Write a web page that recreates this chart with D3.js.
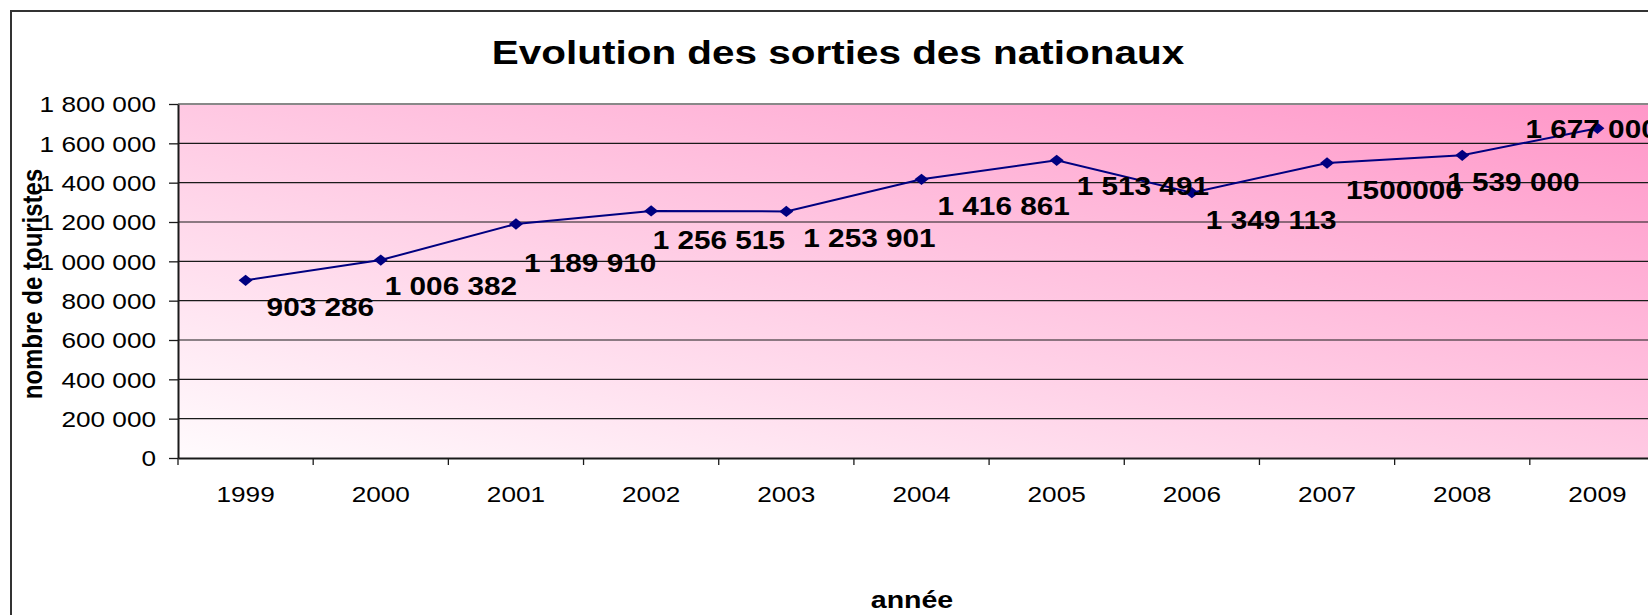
<!DOCTYPE html>
<html>
<head>
	<meta charset="utf-8">
	<script type="text/javascript" src="https://cdn.jsdelivr.net/npm/d3@7/dist/d3.min.js"></script>
	<style>
		body { margin: 0; background: #fff; }
		text { font-family: "Liberation Sans", Arial, Helvetica, sans-serif; fill: #000; }
	</style>
</head>
<body>
	<script type="text/javascript">

		// data
		var years = ['1999', '2000', '2001', '2002', '2003', '2004', '2005', '2006', '2007', '2008', '2009'];
		var sorties = [903286, 1006382, 1189910, 1256515, 1253901, 1416861, 1513491, 1349113, 1500000, 1539000, 1677000];
		var valueLabels = ['903 286', '1 006 382', '1 189 910', '1 256 515', '1 253 901', '1 416 861',
			'1 513 491', '1 349 113', '1500000', '1 539 000', '1 677 000'];
		var yTicks = [0, 200000, 400000, 600000, 800000, 1000000, 1200000, 1400000, 1600000, 1800000];

		// where each value label sits, relative to its point (manually placed in the original)
		var labelOffsets = [[21, 27], [4, 26], [8, 39.5], [1.5, 29], [17, 26.6], [16, 26.6],
			[20, 25.6], [14, 27.3], [19, 26.5], [-15, 27], [-72, 1]];

		// canvas params
		var W = 1648, H = 615;
		var plot = {left: 178, right: 1665, top: 104, bottom: 458};
		var sx = 1.19; // text in the original is stretched horizontally

		var fr = d3.formatLocale({decimal: ',', thousands: ' ', grouping: [3], currency: ['', ' €']});
		var fmt = fr.format(',d');

		var svg = d3.select('body')
			.append('svg')
			.attr('width', W)
			.attr('height', H);

		// gradient for plot area
		var grad = svg.append('defs').append('linearGradient')
			.attr('id', 'bg')
			.attr('x1', 0).attr('y1', 1)
			.attr('x2', 1).attr('y2', 0);
		grad.append('stop').attr('offset', '0%').attr('stop-color', '#fffbfd');
		grad.append('stop').attr('offset', '100%').attr('stop-color', '#ff96c8');

		// outer frame
		svg.append('rect')
			.attr('x', 11).attr('y', 11)
			.attr('width', 1720).attr('height', 700)
			.attr('fill', '#fff')
			.attr('stroke', '#333')
			.attr('stroke-width', 2);

		// scales
		var xScale = d3.scaleBand()
			.domain(years)
			.range([plot.left, plot.right])
			.padding(0);

		var yScale = d3.scaleLinear()
			.domain([0, 1800000])
			.range([plot.bottom, plot.top]);

		svg.append('rect')
			.attr('x', plot.left).attr('y', plot.top)
			.attr('width', plot.right - plot.left)
			.attr('height', plot.bottom - plot.top)
			.attr('fill', 'url(#bg)');

		// gridlines
		svg.append('g')
			.selectAll('line')
			.data(yTicks.slice(1, -1))
			.enter()
			.append('line')
			.attr('x1', plot.left).attr('x2', plot.right)
			.attr('y1', function(d) { return yScale(d); })
			.attr('y2', function(d) { return yScale(d); })
			.attr('stroke', '#1a1a1a')
			.attr('stroke-width', 1.2);

		svg.append('line')
			.attr('x1', plot.left).attr('x2', plot.right)
			.attr('y1', plot.top).attr('y2', plot.top)
			.attr('stroke', '#888')
			.attr('stroke-width', 2);

		// y axis
		var yAxis = svg.append('g')
			.attr('class', 'y-axis')
			.attr('transform', 'translate(' + plot.left + ',0)')
			.call(d3.axisLeft(yScale).tickValues(yTicks).tickSize(9).tickSizeOuter(0).tickFormat(fmt));
		yAxis.select('.domain').attr('stroke', '#1a1a1a').attr('stroke-width', 2);
		yAxis.selectAll('.tick line').attr('stroke', '#1a1a1a').attr('stroke-width', 1.3);
		yAxis.selectAll('.tick text')
			.attr('font-size', 22)
			.attr('x', -22 / sx)
			.attr('dy', '0.36em')
			.attr('transform', 'scale(' + sx + ',1)')
			.attr('fill', '#000');

		// x axis: labels centred in bands, ticks on band edges
		var xAxis = svg.append('g')
			.attr('class', 'x-axis')
			.attr('transform', 'translate(0,' + plot.bottom + ')')
			.call(d3.axisBottom(xScale).tickSize(0).tickSizeOuter(0));
		xAxis.select('.domain').attr('stroke', '#1a1a1a').attr('stroke-width', 2);
		xAxis.selectAll('.tick text')
			.attr('font-size', 22)
			.attr('y', 0)
			.attr('dy', 0)
			.attr('transform', 'translate(0,44) scale(' + sx + ',1)')
			.attr('fill', '#000');

		xAxis.selectAll('.edge')
			.data(years)
			.enter()
			.append('line')
			.attr('class', 'edge')
			.attr('x1', function(d) { return xScale(d); })
			.attr('x2', function(d) { return xScale(d); })
			.attr('y1', 0).attr('y2', 7)
			.attr('stroke', '#1a1a1a')
			.attr('stroke-width', 1.3);

		// line
		var line = d3.line()
			.x(function(d, i) { return xScale(years[i]) + xScale.bandwidth() / 2; })
			.y(function(d) { return yScale(d); });

		svg.append('path')
			.datum(sorties)
			.attr('d', line)
			.attr('fill', 'none')
			.attr('stroke', '#000080')
			.attr('stroke-width', 2);

		// diamond markers
		svg.append('g')
			.selectAll('path')
			.data(sorties)
			.enter()
			.append('path')
			.attr('d', 'M-7,0L0,-5.7L7,0L0,5.7Z')
			.attr('transform', function(d, i) {
				return 'translate(' + (xScale(years[i]) + xScale.bandwidth() / 2) + ',' + yScale(d) + ')';
			})
			.attr('fill', '#000080');

		// value labels
		svg.append('g')
			.selectAll('text')
			.data(sorties)
			.enter()
			.append('text')
			.attr('transform', function(d, i) {
				var px = xScale(years[i]) + xScale.bandwidth() / 2 + labelOffsets[i][0];
				var py = yScale(d) + labelOffsets[i][1];
				return 'translate(' + px + ',' + py + ') scale(' + sx + ',1)';
			})
			.attr('dy', '0.36em')
			.attr('font-size', 25)
			.attr('font-weight', 'bold')
			.text(function(d, i) { return valueLabels[i]; });

		// title
		svg.append('text')
			.attr('transform', 'translate(838,64) scale(' + sx + ',1)')
			.attr('text-anchor', 'middle')
			.attr('font-size', 34)
			.attr('font-weight', 'bold')
			.text('Evolution des sorties des nationaux');

		// axis titles
		svg.append('text')
			.attr('transform', 'translate(41.5,284) scale(' + sx + ',1) rotate(-90)')
			.attr('text-anchor', 'middle')
			.attr('font-size', 24)
			.attr('font-weight', 'bold')
			.text('nombre de touristes');

		svg.append('text')
			.attr('transform', 'translate(912,608) scale(' + sx + ',1)')
			.attr('text-anchor', 'middle')
			.attr('font-size', 24)
			.attr('font-weight', 'bold')
			.text('année');

	</script>
</body>
</html>
